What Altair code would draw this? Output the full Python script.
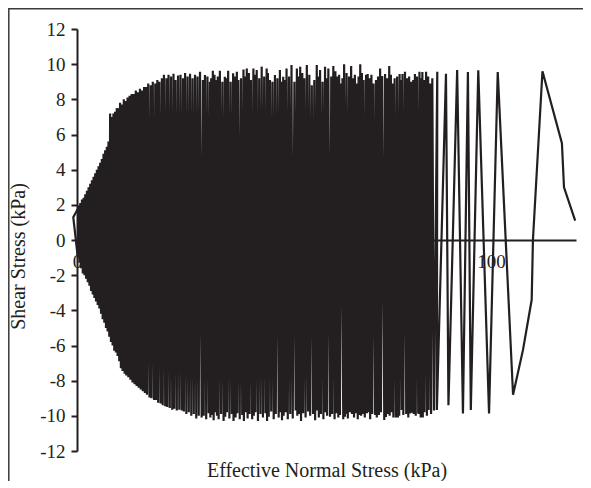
import altair as alt
import pandas as pd

# ---- data (effective normal stress kPa, shear stress kPa) ----
# first loading and unloading branch
head_x = [120.3, 117.6, 117.1, 112.4, 110.1, 109.8, 107.7, 105.3]
head_tau = [1.1, 3.0, 5.5, 9.6, 0.0, -3.4, -6.25, -8.8]

# sparse cycles (x > 86)
sp_peak_x = [101.6, 96.9, 94.4, 91.8, 89.1, 87.0]
sp_peak_tau = [9.55, 9.65, 9.55, 9.67, 9.45, 9.57]
sp_trough_x = [99.5, 95.1, 93.2, 89.7, 86.9, 86.2]
sp_trough_tau = [-9.86, -9.67, -9.86, -9.4, -9.67, -9.7]

# middle cycles (61 < x < 86)
md_peak_x = [85.8, 85.3, 84.8, 84.3, 83.8, 83.4, 83.0, 82.7, 82.1, 81.6,
             81.2, 80.7, 80.2, 79.7, 79.2, 78.6, 78.2, 77.9, 77.3, 76.7,
             76.2, 75.8, 75.4, 74.9, 74.4, 73.7, 73.2, 72.7, 72.2, 71.6,
             71.1, 70.6, 70.2, 69.8, 69.2, 68.8, 68.4, 68.0, 67.6, 67.1,
             66.6, 66.2, 65.7, 65.1, 64.5, 64.1, 63.7, 63.3, 62.9, 62.4,
             61.9, 61.4]
md_peak_tau = [9.2, 8.9, 9.3, 9.57, 9.1, 9.55, 9.2, 9.57, 9.3, 9.44,
               9.1, 9.0, 9.3, 9.2, 9.57, 9.44, 9.1, 9.44, 9.3, 9.2,
               8.9, 9.4, 9.9, 9.2, 9.44, 9.33, 9.75, 9.3, 9.1, 8.9,
               9.4, 9.2, 9.44, 9.4, 9.1, 9.5, 10.0, 9.3, 8.9, 9.4,
               9.2, 9.9, 9.3, 9.5, 10.0, 9.2, 8.9, 9.4, 9.3, 9.6,
               9.9, 9.3]
md_trough_x = [85.5, 84.9, 84.5, 83.9, 83.5, 83.0, 82.6, 82.4, 81.8, 81.3,
               80.8, 80.4, 80.0, 79.5, 78.8, 78.4, 77.8, 77.5, 77.0, 76.4,
               75.9, 75.5, 75.0, 74.6, 74.2, 73.4, 72.9, 72.4, 72.0, 71.3,
               70.8, 70.4, 70.0, 69.5, 69.0, 68.6, 68.1, 67.8, 67.3, 66.9,
               66.4, 65.9, 65.4, 64.9, 64.7, 64.3, 63.5, 63.1, 62.6, 62.2,
               61.6, 61.1]
md_trough_tau = [-9.9, -9.67, -10.0, -9.8, -10.1, -10.1, -9.9, -9.86, -10.0, -9.9,
                 -9.82, -9.86, -10.1, -9.9, -9.95, -9.67, -10.0, -10.1, -10.1, -10.1,
                 -9.8, -10.0, -9.9, -10.07, -10.24, -9.8, -9.95, -10.1, -9.95, -9.9,
                 -10.2, -9.8, -9.86, -10.1, -9.9, -10.0, -9.95, -10.2, -9.85, -10.1,
                 -9.9, -9.8, -10.15, -9.9, -10.05, -10.2, -9.95, -10.1, -9.85, -10.2,
                 -9.9, -10.05]

# dense cycles (x < 61)
dn_peak_x = [60.7, 60.2, 59.9, 59.3, 58.7, 58.2, 57.9, 57.3, 56.7, 56.1,
             55.5, 54.9, 54.4, 53.9, 53.4, 53.1, 52.5, 51.8, 51.2, 50.6,
             50.2, 49.8, 49.4, 49.0, 48.4, 47.8, 47.2, 46.6, 46.1, 45.8,
             45.2, 44.6, 44.0, 43.4, 42.9, 42.6, 42.0, 41.5, 41.0, 40.6,
             40.2, 39.6, 38.96, 38.6, 38.1, 37.7, 37.1, 36.5, 36.0, 35.7,
             35.1, 34.5, 34.0, 33.7, 33.2, 32.8, 32.4, 32.1, 31.5, 30.9,
             30.4, 29.7, 29.1, 28.5, 27.9, 27.3, 26.7, 26.1, 25.6, 25.0,
             24.4, 23.8, 23.3, 22.7, 22.1, 21.6, 21.0, 20.5, 19.9, 19.4,
             18.9, 18.3, 17.8, 17.2, 16.7, 16.2, 15.7, 15.2, 14.7, 14.2,
             13.7, 13.2, 12.7, 12.2, 11.7, 11.3, 10.8, 10.4, 10.0, 9.6,
             9.2, 8.8, 8.4, 8.0, 7.6, 7.2, 6.8, 6.4, 6.0, 5.6,
             5.2, 4.8, 4.4, 4.0, 3.6, 3.2, 2.8, 2.4, 2.0, 1.6,
             1.2, 0.8, 0.4]
dn_peak_tau = [9.76, 9.2, 9.86, 9.0, 9.67, 9.3, 9.95, 9.1, 8.8, 9.4,
               9.95, 9.2, 9.5, 9.86, 9.3, 9.76, 9.0, 9.95, 9.3, 9.76,
               9.1, 9.29, 9.0, 9.67, 9.2, 9.39, 9.0, 9.1, 9.5, 9.76,
               9.3, 9.86, 9.2, 9.67, 9.4, 9.76, 9.1, 9.5, 9.76, 9.3,
               9.7, 9.2, 9.1, 9.57, 9.3, 9.48, 9.0, 9.63, 9.2, 9.29,
               9.0, 9.63, 9.3, 9.1, 9.4, 9.63, 9.2, 9.0, 9.3, 9.39,
               9.1, 9.57, 9.3, 9.4, 9.2, 9.45, 9.3, 9.5, 9.2, 9.4,
               9.35, 9.1, 9.45, 9.3, 9.4, 9.2, 9.4, 9.2, 9.0, 9.1,
               8.9, 9.0, 8.8, 8.9, 8.7, 8.7, 8.5, 8.6, 8.4, 8.5,
               8.3, 8.3, 8.2, 8.1, 7.9, 8.0, 7.7, 7.8, 7.5, 7.5,
               7.3, 7.2, 7.0, 7.2, 5.6, 5.3, 5.1, 4.9, 4.6, 4.4,
               4.2, 4.0, 3.8, 3.6, 3.4, 3.2, 3.0, 2.8, 2.6, 2.4,
               2.3, 2.1, 1.9]
dn_trough_x = [60.4, 59.9, 59.5, 58.9, 58.4, 57.9, 57.5, 57.0, 56.3, 55.8,
               55.2, 54.6, 54.1, 53.6, 53.2, 52.8, 52.1, 51.5, 50.9, 50.4,
               49.9, 49.5, 49.1, 48.7, 48.0, 47.5, 46.9, 46.3, 45.9, 45.5,
               44.9, 44.3, 43.7, 43.1, 42.7, 42.3, 41.7, 41.2, 40.8, 40.3,
               39.9, 39.3, 38.7, 38.3, 37.8, 37.4, 36.8, 36.2, 35.8, 35.4,
               34.8, 34.2, 33.8, 33.4, 33.0, 32.6, 32.2, 31.8, 31.2, 30.6,
               30.1, 29.4, 28.8, 28.2, 27.6, 27.0, 26.4, 25.8, 25.3, 24.7,
               24.1, 23.5, 23.0, 22.4, 21.8, 21.3, 20.7, 20.2, 19.6, 19.1,
               18.6, 18.0, 17.5, 16.9, 16.4, 15.9, 15.4, 14.9, 14.4, 13.9,
               13.4, 12.9, 12.4, 11.9, 11.5, 11.0, 10.6, 10.2, 9.8, 9.4,
               9.0, 8.6, 8.2, 7.8, 7.4, 7.0, 6.6, 6.2, 5.8, 5.4,
               5.0, 4.6, 4.2, 3.8, 3.4, 3.0, 2.6, 2.2, 1.8, 1.4,
               1.0, 0.6, 0.2]
dn_trough_tau = [-10.0, -9.8, -10.2, -9.9, -10.1, -9.7, -10.25, -9.9, -10.0, -9.75,
                 -10.1, -9.85, -10.3, -9.9, -10.0, -9.7, -10.15, -9.9, -10.2, -9.8,
                 -10.0, -10.25, -9.8, -10.1, -9.9, -10.2, -9.75, -10.05, -10.3, -9.85,
                 -10.1, -9.9, -10.3, -9.8, -10.0, -10.2, -9.9, -10.15, -9.8, -10.3,
                 -9.95, -10.2, -9.85, -10.1, -10.3, -9.9, -10.15, -9.8, -10.05, -10.3,
                 -9.9, -10.2, -10.0, -9.8, -10.25, -9.95, -10.1, -9.85, -10.2, -10.0,
                 -10.1, -10.0, -10.15, -9.9, -10.0, -9.8, -9.9, -9.75, -9.7, -9.65,
                 -9.7, -9.6, -9.65, -9.55, -9.5, -9.45, -9.4, -9.3, -9.25, -9.1,
                 -9.1, -9.0, -8.95, -8.8, -8.7, -8.6, -8.5, -8.4, -8.3, -8.2,
                 -8.1, -7.95, -7.8, -7.7, -7.6, -7.45, -7.3, -6.9, -6.6, -6.4,
                 -6.3, -6.0, -5.8, -5.5, -5.2, -5.0, -4.7, -4.5, -4.2, -3.9,
                 -3.7, -3.5, -3.3, -3.1, -2.9, -2.6, -2.4, -2.2, -2.0, -1.9,
                 -1.6, -1.3, -1.0]

# last points near the origin
tail_x = [-0.9, 0.5, 1.2]
tail_tau = [1.3, 1.9, -1.5]

# ---- assemble the stress path in test order ----
peaks_x = sp_peak_x + md_peak_x + dn_peak_x
peaks_t = sp_peak_tau + md_peak_tau + dn_peak_tau
troughs_x = sp_trough_x + md_trough_x + dn_trough_x
troughs_t = sp_trough_tau + md_trough_tau + dn_trough_tau
xs = list(head_x)
ts = list(head_tau)
for px, pt, tx, tt in zip(peaks_x, peaks_t, troughs_x, troughs_t):
    xs += [px, tx]
    ts += [pt, tt]
xs += tail_x
ts += tail_tau
path = pd.DataFrame({"sigma": xs, "tau": ts, "step": list(range(len(xs)))})

INK = "#231f20"
FONT = "Liberation Serif"
XMAX = 120.5
MINUS = "(datum.value < 0 ? '-' : '') + format(abs(datum.value), 'd')"

xscale = alt.Scale(domain=[0, XMAX], nice=False, zero=False)
yscale = alt.Scale(domain=[-12, 12], nice=False)

frame = alt.Chart(pd.DataFrame({"a": [0]})).mark_rect(
    fill="transparent", stroke="#3a3a3a", strokeWidth=1.5
).encode(
    x=alt.value(-68.2), x2=alt.value(560),
    y=alt.value(-20.3), y2=alt.value(520),
)

line = alt.Chart(path).mark_line(color=INK, strokeWidth=2.2).encode(
    x=alt.X("sigma:Q", scale=xscale, title="Effective Normal Stress (kPa)",
            axis=alt.Axis(values=[0, 20, 40, 60, 80, 100], offset=-211, zindex=1,
                          ticks=False, domain=True, domainWidth=1.8, domainColor=INK,
                          grid=False,
                          labelFont=FONT, labelFontSize=19, labelColor=INK,
                          labelPadding=12, labelFlush=False, labelOverlap=False,
                          titleFont=FONT, titleFontSize=20, titleFontWeight="normal",
                          titleColor=INK, titleBaseline="alphabetic", titleY=236)),
    y=alt.Y("tau:Q", scale=yscale, title="Shear Stress (kPa)",
            axis=alt.Axis(values=list(range(-12, 13, 2)), grid=False, zindex=1,
                          tickSize=6, tickWidth=2, tickColor=INK,
                          domainWidth=2, domainColor=INK,
                          labelFont=FONT, labelFontSize=19, labelColor=INK,
                          labelPadding=6, labelOverlap=False, labelExpr=MINUS,
                          titleFont=FONT, titleFontSize=20, titleFontWeight="normal",
                          titleColor=INK, titleX=-49, titleY=227)),
    order="step:Q",
)

chart = alt.layer(frame, line).properties(
    width=499, height=422,
    autosize=alt.AutoSizeParams(type="none"),
    padding={"left": 69, "top": 21, "right": 7, "bottom": 30},
).configure_view(stroke=None)

chart.save("out.html", embed_options={"renderer": "svg", "actions": False})
